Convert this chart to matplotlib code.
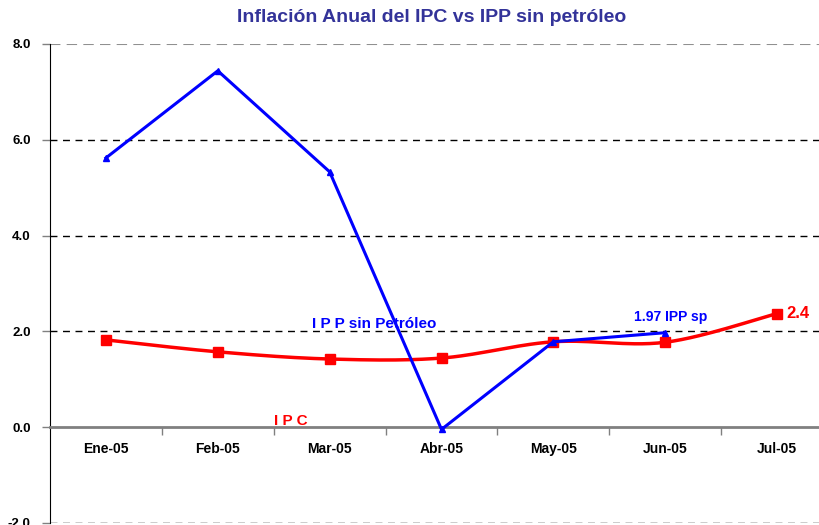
import numpy as np
import matplotlib.pyplot as plt

# data
months = ["Ene-05", "Feb-05", "Mar-05", "Abr-05", "May-05", "Jun-05", "Jul-05"]
ipc = [1.82, 1.57, 1.42, 1.44, 1.78, 1.77, 2.37]
ipp_sp = [5.62, 7.44, 5.33, -0.05, 1.78, 1.97]

FONT = ["Liberation Sans", "DejaVu Sans"]
plt.rcParams["font.family"] = FONT


def smooth(x, y, steps=30):
    # Catmull-Rom style smoothing (like the spreadsheet "smoothed line")
    x = np.asarray(x, float)
    y = np.asarray(y, float)
    px = np.concatenate([[x[0]], x, [x[-1]]])
    py = np.concatenate([[y[0]], y, [y[-1]]])
    xs, ys = [], []
    t = np.linspace(0, 1, steps)
    for i in range(1, len(px) - 2):
        p0 = np.array([px[i], py[i]])
        p3 = np.array([px[i + 1], py[i + 1]])
        p1 = p0 + (np.array([px[i + 1], py[i + 1]]) - np.array([px[i - 1], py[i - 1]])) / 6
        p2 = p3 - (np.array([px[i + 2], py[i + 2]]) - np.array([px[i], py[i]])) / 6
        b = ((1 - t) ** 3)[:, None] * p0 + (3 * (1 - t) ** 2 * t)[:, None] * p1 \
            + (3 * (1 - t) * t ** 2)[:, None] * p2 + (t ** 3)[:, None] * p3
        xs.extend(b[:, 0])
        ys.extend(b[:, 1])
    return np.array(xs), np.array(ys)


fig = plt.figure(figsize=(8.19, 5.25), dpi=100)
ax = fig.add_axes([50 / 819, 1 - 522.75 / 525, 783 / 819, (522.75 - 44) / 525])

x = np.arange(len(months))
ax.set_xlim(-0.5, len(months) - 0.5)
ax.set_ylim(-2, 8)

# gridlines
for g in [-2, 2, 4, 6]:
    ax.axhline(g, color="black", lw=1, ls=(0, (5, 4)), zorder=1)
ax.axhline(8, color="#909090", lw=1.5, ls=(0, (5, 3)), zorder=1)

sx, sy = smooth(x, ipc)
ax.plot(sx, sy, color="#ff0000", lw=2.5, zorder=3)
ax.plot(x, ipc, ls="none", marker="s", ms=7, color="#ff0000", zorder=4)
ax.plot(x[:len(ipp_sp)], ipp_sp, color="#0000ff", lw=2.2, marker="^", ms=5, zorder=5)

# axes styling
ax.spines["top"].set_visible(False)
ax.spines["right"].set_visible(False)
ax.spines["left"].set_color("black")
ax.spines["bottom"].set_position(("data", 0))
ax.spines["bottom"].set_color("#808080")
ax.spines["bottom"].set_linewidth(2)

ax.set_yticks([-2, 0, 2, 4, 6, 8])
ax.set_yticklabels([f"{v:.1f}" for v in [-2, 0, 2, 4, 6, 8]], fontsize=9.5, fontweight="bold")
ax.tick_params(axis="y", length=6, width=1, color="#808080", pad=8)

ax.set_xticks(x)
ax.set_xticklabels(months, fontsize=10, fontweight="bold")
ax.set_xticks(np.arange(0.5, len(months) - 0.5), minor=True)
ax.tick_params(axis="x", which="major", length=0, pad=11)
ax.tick_params(axis="x", which="minor", length=6, width=1, color="#808080", direction="out")

# labels in the plot
ax.text(2.4, 2.0, "I P P sin Petróleo", color="#0000ff", fontsize=11, fontweight="bold",
        ha="center", va="bottom")
ax.text(1.65, -0.02, "I P C", color="#ff0000", fontsize=11, fontweight="bold",
        ha="center", va="bottom")
ax.text(5.05, 2.3, "1.97 IPP sp", color="#0000ff", fontsize=10, fontweight="bold",
        ha="center", va="center")
ax.text(6.08, 2.37, "2.4", color="#ff0000", fontsize=12, fontweight="bold",
        ha="left", va="center")

fig.text(432 / 819, 1 - 18 / 525, "Inflación Anual del IPC vs IPP sin petróleo",
         color="#333399", fontsize=14, fontweight="bold", ha="center", va="center")

fig.savefig("out.png", dpi=100)
